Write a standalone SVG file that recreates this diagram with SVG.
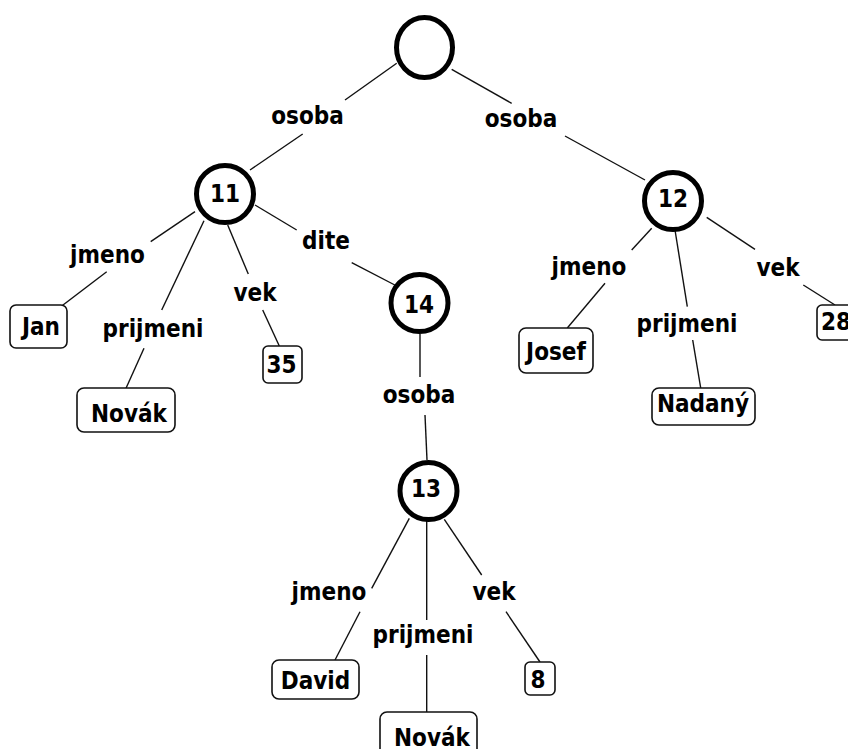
<svg xmlns="http://www.w3.org/2000/svg" width="848" height="749" viewBox="0 0 848 749">
  <style>
    text { font-family: "DejaVu Sans Condensed", "DejaVu Sans", "Liberation Sans", sans-serif; font-stretch: condensed; font-weight: bold; font-size: 24px; fill: #000; text-anchor: middle; }
    .obj { fill: #fff; stroke: #000; stroke-width: 5; }
    .leaf { fill: #fff; stroke: #111; stroke-width: 1.6; }
    .edge line { stroke: #111; stroke-width: 1.4; fill: none; }
  </style>
  <rect width="848" height="749" fill="#fff"/>

  <!-- edges: each is split in two around its label -->
  <g id="connectors" class="edge">
    <line x1="396.7" y1="63.3" x2="345" y2="100"/>
    <line x1="302.7" y1="134" x2="250" y2="170"/>
    <line x1="451.7" y1="69.3" x2="511.7" y2="103.3"/>
    <line x1="565" y1="136" x2="645" y2="180"/>
    <line x1="195" y1="211.7" x2="150.7" y2="241.7"/>
    <line x1="106.7" y1="271.7" x2="61.7" y2="306"/>
    <line x1="204" y1="220.7" x2="161.7" y2="310"/>
    <line x1="144" y1="348.3" x2="126" y2="388.3"/>
    <line x1="227.7" y1="225" x2="248.3" y2="274"/>
    <line x1="262.7" y1="310" x2="279.3" y2="346"/>
    <line x1="255" y1="205" x2="296.7" y2="230"/>
    <line x1="351.7" y1="262.7" x2="396.7" y2="286"/>
    <line x1="420" y1="334" x2="420" y2="377"/>
    <line x1="425" y1="415" x2="427" y2="460"/>
    <line x1="651.7" y1="228.3" x2="631.7" y2="250"/>
    <line x1="605" y1="283.3" x2="567.3" y2="328"/>
    <line x1="675" y1="230" x2="687.3" y2="306.7"/>
    <line x1="692.7" y1="340" x2="700.7" y2="388"/>
    <line x1="706.7" y1="217.3" x2="755" y2="249.3"/>
    <line x1="803.3" y1="285" x2="835" y2="305"/>
    <line x1="409.3" y1="518.3" x2="371.7" y2="588.3"/>
    <line x1="360" y1="611.7" x2="335" y2="660"/>
    <line x1="426.7" y1="520" x2="426.7" y2="620"/>
    <line x1="426.7" y1="655" x2="426.7" y2="712"/>
    <line x1="444.3" y1="519.3" x2="481.7" y2="575"/>
    <line x1="506" y1="611.7" x2="540" y2="662"/>
  </g>

  <!-- edge labels -->
  <g id="edge-labels">
    <text x="307.5" y="124">osoba</text>
    <text x="521" y="127">osoba</text>
    <text x="107.5" y="263">jmeno</text>
    <text x="153" y="337">prijmeni</text>
    <text x="255" y="301">vek</text>
    <text x="326" y="249">dite</text>
    <text x="419" y="403">osoba</text>
    <text x="589" y="275">jmeno</text>
    <text x="687" y="332">prijmeni</text>
    <text x="778" y="276">vek</text>
    <text x="329" y="600">jmeno</text>
    <text x="423" y="643">prijmeni</text>
    <text x="494" y="600">vek</text>
  </g>

  <!-- object nodes -->
  <g id="root"><ellipse class="obj" cx="424.5" cy="47.5" rx="28" ry="30"/></g>
  <g id="n11"><circle class="obj" cx="225" cy="194" r="28.5"/><text x="225" y="202">11</text></g>
  <g id="n12"><circle class="obj" cx="673" cy="201" r="28.5"/><text x="673" y="207">12</text></g>
  <g id="n14"><circle class="obj" cx="419.5" cy="303" r="28.5"/><text x="419" y="313">14</text></g>
  <g id="n13"><circle class="obj" cx="428.5" cy="491" r="28.5"/><text x="426" y="497">13</text></g>

  <!-- value leaves -->
  <g id="jan"><rect class="leaf" x="10" y="305" width="57" height="43" rx="6"/><text x="41" y="335">Jan</text></g>
  <g id="novak1"><rect class="leaf" x="77" y="388" width="98" height="44" rx="7"/><text x="129" y="422">Novák</text></g>
  <g id="v35"><rect class="leaf" x="263" y="346" width="39" height="37" rx="5"/><text x="281.5" y="373">35</text></g>
  <g id="josef"><rect class="leaf" x="519" y="328" width="74" height="45" rx="7"/><text x="556" y="360">Josef</text></g>
  <g id="nadany"><rect class="leaf" x="652" y="388" width="103" height="37" rx="7"/><text x="703" y="412">Nadaný</text></g>
  <g id="v28"><rect class="leaf" x="817" y="305" width="40" height="35" rx="5"/><text x="836" y="330">28</text></g>
  <g id="david"><rect class="leaf" x="272" y="660" width="87" height="39" rx="7"/><text x="315.5" y="689">David</text></g>
  <g id="v8"><rect class="leaf" x="525" y="662" width="30" height="33" rx="5"/><text x="538" y="688">8</text></g>
  <g id="novak2"><rect class="leaf" x="380" y="712" width="97" height="50" rx="7"/><text x="432" y="746">Novák</text></g>
</svg>
